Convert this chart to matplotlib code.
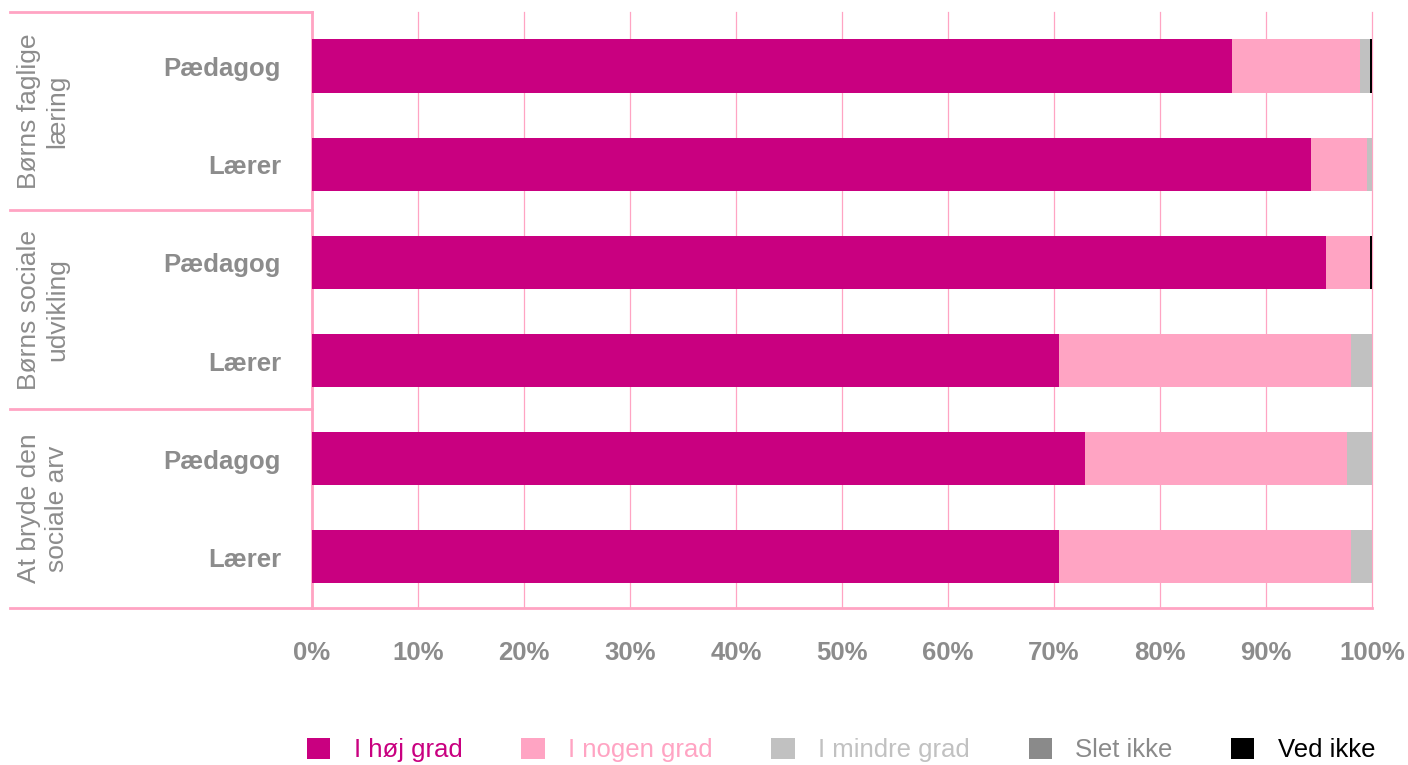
import matplotlib
matplotlib.use("Agg")
import matplotlib.pyplot as plt
from matplotlib.patches import Patch
from matplotlib.transforms import blended_transform_factory, offset_copy

plt.rcParams['font.family'] = ['Liberation Sans', 'DejaVu Sans']

groups = ["Børns faglige\nlæring", "Børns sociale\nudvikling", "At bryde den\nsociale arv"]
rows = ["Pædagog", "Lærer", "Pædagog", "Lærer", "Pædagog", "Lærer"]
series_names = ["I høj grad", "I nogen grad", "I mindre grad", "Slet ikke", "Ved ikke"]
hoej = [86.8, 94.2, 95.7, 70.5, 72.9, 70.5]
nogen = [12.1, 5.3, 4.1, 27.5, 24.7, 27.5]
mindre = [0.9, 0.5, 0.0, 2.0, 2.4, 2.0]
slet = [0.0, 0.0, 0.0, 0.0, 0.0, 0.0]
vedikke = [0.2, 0.0, 0.2, 0.0, 0.0, 0.0]
ticks = [0, 10, 20, 30, 40, 50, 60, 70, 80, 90, 100]
tick_labels = [f"{t}%" for t in ticks]

colors = ["#C90080", "#FFA4C3", "#C1C1C1", "#8A8A8A", "#000000"]
text_colors = ["#C90080", "#FFA4C3", "#C1C1C1", "#8A8A8A", "#000000"]
line_pink = "#FFA4C3"
grey_txt = "#8C8C8C"

W, H = 1408, 765
fig = plt.figure(figsize=(W / 100, H / 100), dpi=100)
ax = fig.add_axes([312 / W, 1 - 608 / H, 1060 / W, 596 / H])

ypos = list(range(len(rows)))
left = [0.0] * len(rows)
for vals, col, name in zip([hoej, nogen, mindre, slet, vedikke], colors, series_names):
    ax.barh(ypos, vals, left=left, height=0.54, color=col, label=name, zorder=3)
    left = [l + v for l, v in zip(left, vals)]

ax.set_xlim(0, 100)
ax.set_ylim(5.52, -0.55)
ax.set_xticks(ticks)
ax.set_xticklabels(tick_labels, fontsize=18.5, fontweight='bold', color=grey_txt)
ax.tick_params(axis='x', length=0, pad=24)
ax.set_yticks([])
for t in ticks:
    ax.axvline(t, color=line_pink, lw=0.9, zorder=1, clip_on=False)

for s in ['top', 'right']:
    ax.spines[s].set_visible(False)
ax.spines['left'].set_color(line_pink)
ax.spines['left'].set_linewidth(2)
ax.spines['bottom'].set_color(line_pink)
ax.spines['bottom'].set_linewidth(2)

# left panel (axes-fraction coordinates)
x0 = (10 - 312) / 1060
for yb in [1.0, (608 - 210) / 596, (608 - 409) / 596, 0.0]:
    ax.plot([x0, 0], [yb, yb], transform=ax.transAxes, color=line_pink, lw=2,
            clip_on=False, zorder=4)

tr = blended_transform_factory(ax.transAxes, ax.transData)
tr_lbl = offset_copy(tr, fig=fig, x=0, y=-3, units='dots')
for i, r in enumerate(rows):
    ax.text((281 - 312) / 1060, i, r, transform=tr_lbl, ha='right', va='center',
            fontsize=18.5, fontweight='bold', color=grey_txt)

group_centers = [(12 + 210) / 2, (210 + 409) / 2, (409 + 608) / 2]
for name, yc in zip(groups, group_centers):
    ax.text((43 - 312) / 1060, (608 - yc) / 596, name, transform=ax.transAxes, rotation=90,
            ha='center', va='center', multialignment='center',
            fontsize=19, color=grey_txt, linespacing=1.2)

handles = [Patch(facecolor=c, edgecolor='none') for c in colors]
leg = fig.legend(handles, series_names, loc='center right',
                 bbox_to_anchor=(1375 / W, 1 - 750 / H), ncol=5, frameon=False,
                 fontsize=18.5, handlelength=0.9, handleheight=0.9,
                 handletextpad=0.9, columnspacing=2.30, borderaxespad=0, borderpad=0)
for txt, c in zip(leg.get_texts(), text_colors):
    txt.set_color(c)

fig.savefig("out.png", dpi=100)
